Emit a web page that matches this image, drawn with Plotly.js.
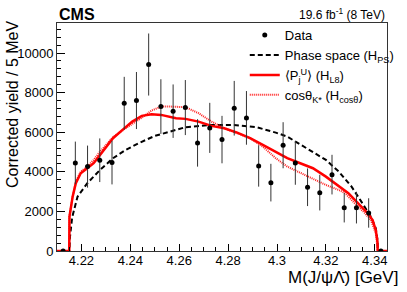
<!DOCTYPE html>
<html>
<head>
<meta charset="utf-8">
<script src="https://cdn.plot.ly/plotly-3.0.1.min.js"></script>
<style>html,body{margin:0;padding:0;background:#fff;}#chart{width:407px;height:292px;}</style>
</head>
<body>
<div id="chart"></div>
<script>
// ---- Data ----
const massBins = [4.2125, 4.2175, 4.2225, 4.2275, 4.2325, 4.2375, 4.2425, 4.2475, 4.2525,
                  4.2575, 4.2625, 4.2675, 4.2725, 4.2775, 4.2825, 4.2875, 4.2925, 4.2975,
                  4.3025, 4.3075, 4.3125, 4.3175, 4.3225, 4.3275, 4.3325, 4.3375, 4.3425];
const yields = [0, 4448, 4262, 4584, 4465, 7466, 7600, 9418, 7294,
                7062, 7244, 5459, 6218, 5627, 7210, 6723, 4297, 3453,
                5342, 4448, 3219, 2948, 3857, 2190, 2190, 1921, 0];
const yieldErr = [0, 1077, 1062, 1102, 1102, 1330, 1441, 1567, 1380,
                  1350, 1390, 1198, 1264, 1198, 1380, 1355, 1046, 950,
                  1163, 1102, 950, 900, 1001, 748, 799, 743, 0];

const psMass = [4.2100, 4.2151, 4.2153, 4.2157, 4.2162, 4.2184, 4.2224, 4.2276, 4.2329, 4.2381,
                4.2434, 4.2500, 4.2552, 4.2626, 4.2732, 4.2824, 4.2916, 4.2995, 4.3042,
                4.3121, 4.3200, 4.3253, 4.3305, 4.3345, 4.3384, 4.3404, 4.3411, 4.3413, 4.3450];
const psYield = [0, 0, 700, 1200, 1700, 2745, 3422, 4095, 4686, 5106,
                 5444, 5813, 6000, 6253, 6369, 6369, 6253, 5980, 5778,
                 5191, 4600, 4009, 3250, 2492, 1734, 1147, 556, 0, 0];

const l8Mass = [4.2100, 4.2150, 4.2151, 4.2164, 4.2177, 4.2197, 4.2224, 4.2250, 4.2276, 4.2303,
                4.2329, 4.2368, 4.2408, 4.2447, 4.2487, 4.2526, 4.2555, 4.2587, 4.2626,
                4.2679, 4.2732, 4.2784, 4.2837, 4.2890, 4.2942, 4.2995, 4.3042, 4.3095,
                4.3147, 4.3200, 4.3253, 4.3292, 4.3332, 4.3371, 4.3391, 4.3404, 4.3411, 4.3412, 4.3450];
const l8Yield = [0, 0, 1734, 2745, 3422, 3928, 4180, 4433, 4853, 5272,
                 5697, 6117, 6536, 6824, 6910, 6874, 6780, 6708, 6673,
                 6536, 6319, 6202, 5980, 5697, 5358, 5020, 4686, 4433,
                 4180, 3756, 3250, 2917, 2411, 1906, 1567, 1062, 470, 0, 0];

const cosMass = [4.2100, 4.2150, 4.2151, 4.2164, 4.2177, 4.2197, 4.2224, 4.2250, 4.2276, 4.2329,
                 4.2381, 4.2434, 4.2487, 4.2526, 4.2566, 4.2587, 4.2626, 4.2679, 4.2732,
                 4.2784, 4.2837, 4.2890, 4.2942, 4.2995, 4.3042, 4.3095, 4.3147, 4.3200,
                 4.3253, 4.3279, 4.3318, 4.3358, 4.3384, 4.3404, 4.3411, 4.3412, 4.3450];
const cosYield = [0, 0, 1734, 2745, 3500, 4009, 4262, 4600, 5020, 5748,
                  6202, 6622, 7092, 7294, 7294, 7294, 7260, 6960, 6536,
                  6202, 5950, 5697, 5272, 4686, 4262, 3958, 3675, 3336,
                  3084, 2917, 2411, 1936, 1567, 895, 217, 0, 0];

const xTicks = [4.22, 4.24, 4.26, 4.28, 4.30, 4.32, 4.34];
const xTickText = ['4.22', '4.24', '4.26', '4.28', '4.3', '4.32', '4.34'];
const yTicks = [0, 2000, 4000, 6000, 8000, 10000];

const FONT = 'Liberation Sans, Arial, Helvetica, sans-serif';

const traces = [
  {
    x: psMass, y: psYield, mode: 'lines', name: 'Phase space (H<sub>PS</sub>)',
    line: {color: 'black', width: 2, dash: '5px,3px'}, legendrank: 2, hoverinfo: 'skip'
  },
  {
    x: cosMass, y: cosYield, mode: 'lines', name: 'cos\u03B8<sub>K*</sub> (H<sub>cos\u03B8</sub>)',
    line: {color: '#ff2020', width: 2, dash: '1px,1px'}, legendrank: 4, hoverinfo: 'skip'
  },
  {
    x: l8Mass, y: l8Yield, mode: 'lines', name: '\u27E8P<sub>j</sub><sup>U</sup>\u27E9 (H<sub>L8</sub>)',
    line: {color: '#ff0000', width: 2.5}, legendrank: 3, hoverinfo: 'skip'
  },
  {
    x: massBins, y: yields, mode: 'markers', name: 'Data',
    marker: {color: 'black', size: 5},
    error_y: {type: 'data', array: yieldErr, visible: true, color: '#333', thickness: 1, width: 0},
    legendrank: 1
  }
];

const layout = {
  width: 407, height: 292,
  margin: {l: 57, r: 8, t: 23, b: 41, pad: 0},
  paper_bgcolor: 'white', plot_bgcolor: 'white',
  font: {family: FONT, size: 13, color: 'black'},
  showlegend: true,
  legend: {
    x: 0.569, y: 1.0125, xanchor: 'left', yanchor: 'top',
    bgcolor: 'rgba(0,0,0,0)', font: {family: FONT, size: 13, color: 'black'},
    itemwidth: 30, tracegroupgap: 0
  },
  xaxis: {
    range: [4.21, 4.345], tickmode: 'array', tickvals: xTicks, ticktext: xTickText,
    ticks: 'inside', ticklen: 7, tickcolor: 'black', tickwidth: 1, ticklabelstandoff: -3,
    showline: true, linecolor: '#333', linewidth: 1, mirror: true,
    showgrid: false, zeroline: false,
    tickfont: {family: FONT, size: 13, color: 'black'},
    minor: {dtick: 0.005, tick0: 4.22, ticks: 'inside', ticklen: 4, tickcolor: 'black', showgrid: false}
  },
  yaxis: {
    range: [0, 11515], tickmode: 'array', tickvals: yTicks, tickformat: 'd',
    ticks: 'inside', ticklen: 8, tickcolor: 'black', tickwidth: 1,
    showline: true, linecolor: '#333', linewidth: 1, mirror: true,
    showgrid: false, zeroline: false,
    tickfont: {family: FONT, size: 13, color: 'black'},
    minor: {dtick: 400, tick0: 0, ticks: 'inside', ticklen: 4, tickcolor: 'black', showgrid: false}
  },
  annotations: [
    {text: '<b>CMS</b>', xref: 'paper', yref: 'paper', x: 0, y: 1, xanchor: 'left', yanchor: 'bottom',
     showarrow: false, font: {family: FONT, size: 16, color: 'black'}, yshift: -2},
    {text: '19.6 fb<sup>-1</sup> (8 TeV)', xref: 'paper', yref: 'paper', x: 1, y: 1, xanchor: 'right', yanchor: 'bottom',
     showarrow: false, font: {family: FONT, size: 12, color: 'black'}, yshift: -1},
    {text: 'M(J/\u03C8\u039B\u0304) [GeV]', xref: 'paper', yref: 'paper', x: 0.695, y: -0.118, xanchor: 'left', yanchor: 'middle',
     showarrow: false, font: {family: FONT, size: 17, color: 'black'}},
    {text: 'Corrected yield / 5 MeV', xref: 'paper', yref: 'paper', x: -0.1345, y: 1.02, xanchor: 'center', yanchor: 'top',
     textangle: -90, showarrow: false, font: {family: FONT, size: 16, color: 'black'}}
  ]
};

Plotly.newPlot('chart', traces, layout, {displayModeBar: false, staticPlot: true});
</script>
</body>
</html>
